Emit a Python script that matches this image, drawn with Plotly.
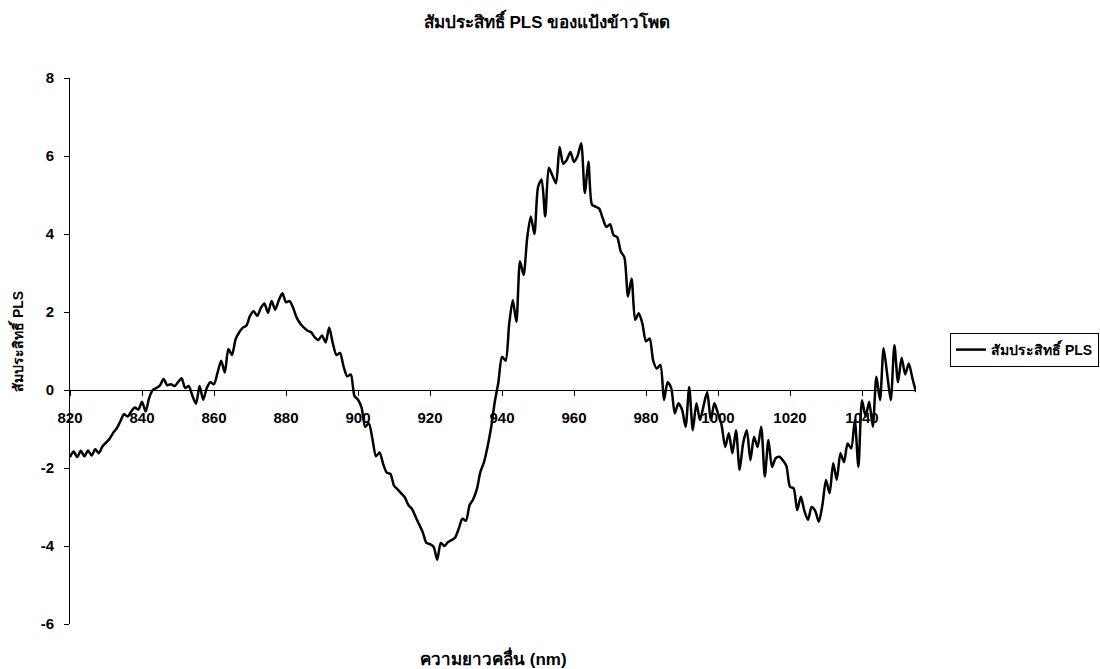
import plotly.graph_objects as go

wavelengths = list(range(820, 1056))

pls_coef = [
    -1.72, -1.58, -1.72, -1.56, -1.70, -1.55, -1.68, -1.52, -1.62, -1.45,   # 820-829
    -1.35, -1.25, -1.10, -0.98, -0.80, -0.62, -0.68, -0.55, -0.45, -0.50,   # 830-839
    -0.30, -0.55, -0.20, 0.00, 0.05, 0.12, 0.28, 0.12, 0.15, 0.10,          # 840-849
    0.20, 0.30, 0.05, 0.10, -0.15, -0.35, 0.10, -0.25, 0.05, 0.20,          # 850-859
    0.15, 0.45, 0.75, 0.45, 1.05, 0.90, 1.30, 1.48, 1.60, 1.65,             # 860-869
    1.90, 2.02, 1.90, 2.10, 2.22, 1.98, 2.28, 2.06, 2.30, 2.48,             # 870-879
    2.25, 2.28, 2.10, 1.85, 1.70, 1.60, 1.52, 1.48, 1.35, 1.28,             # 880-889
    1.40, 1.22, 1.60, 1.20, 0.90, 0.95, 0.60, 0.35, 0.40, -0.15,            # 890-899
    -0.25, -0.45, -0.95, -0.85, -1.25, -1.70, -1.60, -1.90, -2.12, -2.15,   # 900-909
    -2.45, -2.55, -2.65, -2.75, -2.95, -3.05, -3.25, -3.45, -3.65, -3.92,   # 910-919
    -3.95, -4.02, -4.35, -3.92, -4.00, -3.90, -3.85, -3.78, -3.55, -3.30,   # 920-929
    -3.35, -2.95, -2.80, -2.55, -2.10, -1.85, -1.45, -0.95, -0.30, 0.20,    # 930-939
    0.85, 0.75, 1.70, 2.30, 1.75, 3.30, 2.95, 3.90, 4.45, 4.00,             # 940-949
    5.20, 5.40, 4.45, 5.70, 5.50, 5.30, 6.23, 5.80, 5.90, 6.10,             # 950-959
    5.85, 6.00, 6.33, 5.05, 5.85, 4.75, 4.70, 4.65, 4.40, 4.18,             # 960-969
    4.25, 3.97, 3.92, 3.55, 3.40, 2.40, 2.85, 1.80, 1.97, 1.70,             # 970-979
    1.25, 1.32, 0.75, 0.55, 0.64, -0.26, 0.20, 0.05, -0.60, -0.34,          # 980-989
    -0.50, -0.94, 0.08, -1.03, -0.34, -0.77, -0.40, -0.05, -0.77, -0.34,    # 990-999
    -0.60, -0.90, -1.46, -1.11, -1.62, -1.03, -2.05, -1.35, -1.03, -1.80,   # 1000-1009
    -1.20, -1.46, -0.94, -2.22, -1.28, -1.97, -1.75, -1.71, -1.80, -1.95,   # 1010-1019
    -2.48, -2.52, -3.08, -2.74, -3.10, -3.33, -3.00, -3.10, -3.38, -2.95,   # 1020-1029
    -2.31, -2.65, -1.88, -2.30, -1.62, -1.85, -1.37, -1.50, -0.77, -1.97,   # 1030-1039
    -0.26, -0.68, -0.30, -0.94, 0.34, -0.26, 1.07, 0.40, -0.26, 1.15,       # 1040-1049
    0.20, 0.83, 0.40, 0.68, 0.30, -0.05,                                    # 1050-1055
]

x_ticks = [820, 840, 860, 880, 900, 920, 940, 960, 980, 1000, 1020, 1040]
y_ticks = [-6, -4, -2, 0, 2, 4, 6, 8]
y_tick_labels = ["-6", "-4", "-2", "0", "2", "4", "6", "8"]

title_text = "สัมประสิทธิ์ PLS ของแป้งข้าวโพด"
x_title = "ความยาวคลื่น (nm)"
y_title = "สัมประสิทธิ์ PLS"
series_name = "สัมประสิทธิ์ PLS"

FONT = "Liberation Sans, Arial, Noto Sans, DejaVu Sans, sans-serif"

fig = go.Figure()
fig.add_trace(go.Scatter(
    x=wavelengths, y=pls_coef, mode="lines", name=series_name,
    line=dict(color="black", width=2.5, shape="spline", smoothing=0.7),
))

fig.update_layout(
    width=1100, height=669,
    paper_bgcolor="white", plot_bgcolor="white",
    margin=dict(l=70, r=184, t=78, b=45),
    font=dict(family=FONT, size=12, color="black", weight="bold"),
    title=dict(text=title_text, x=547 / 1100, xref="container", xanchor="center",
               y=1 - 22 / 669, yref="container", yanchor="middle",
               font=dict(size=17, weight="bold")),
    showlegend=True,
    legend=dict(xref="container", yref="container", x=950 / 1100, y=1 - 350 / 669,
                xanchor="left", yanchor="middle", bordercolor="black", borderwidth=1,
                bgcolor="white", itemwidth=30, tracegroupgap=0,
                font=dict(size=14, weight="bold")),
    xaxis=dict(range=[820, 1055], tickvals=x_ticks, showgrid=False, zeroline=False,
               showline=True, linecolor="black", linewidth=1,
               ticks="outside", ticklen=5, tickcolor="black",
               anchor="free", position=6 / 14, ticklabelstandoff=9,
               tickfont=dict(size=15, weight="bold")),
    yaxis=dict(range=[-6, 8], tickvals=y_ticks, ticktext=y_tick_labels,
               showgrid=False, zeroline=False,
               showline=True, linecolor="black", linewidth=1,
               ticks="outside", ticklen=5, tickcolor="black", ticklabelstandoff=7,
               tickfont=dict(size=15, weight="bold")),
    annotations=[
        dict(text=x_title, xref="paper", yref="paper", x=0.5, y=(624 - 658) / 546,
             showarrow=False, xanchor="center", yanchor="middle",
             font=dict(size=17, weight="bold")),
        dict(text=y_title, xref="paper", yref="paper", x=(17 - 70) / 846, y=(624 - 342) / 546,
             showarrow=False, textangle=-90, xanchor="center", yanchor="middle",
             font=dict(size=14, weight="bold")),
    ],
)

fig.write_html("out.html")
